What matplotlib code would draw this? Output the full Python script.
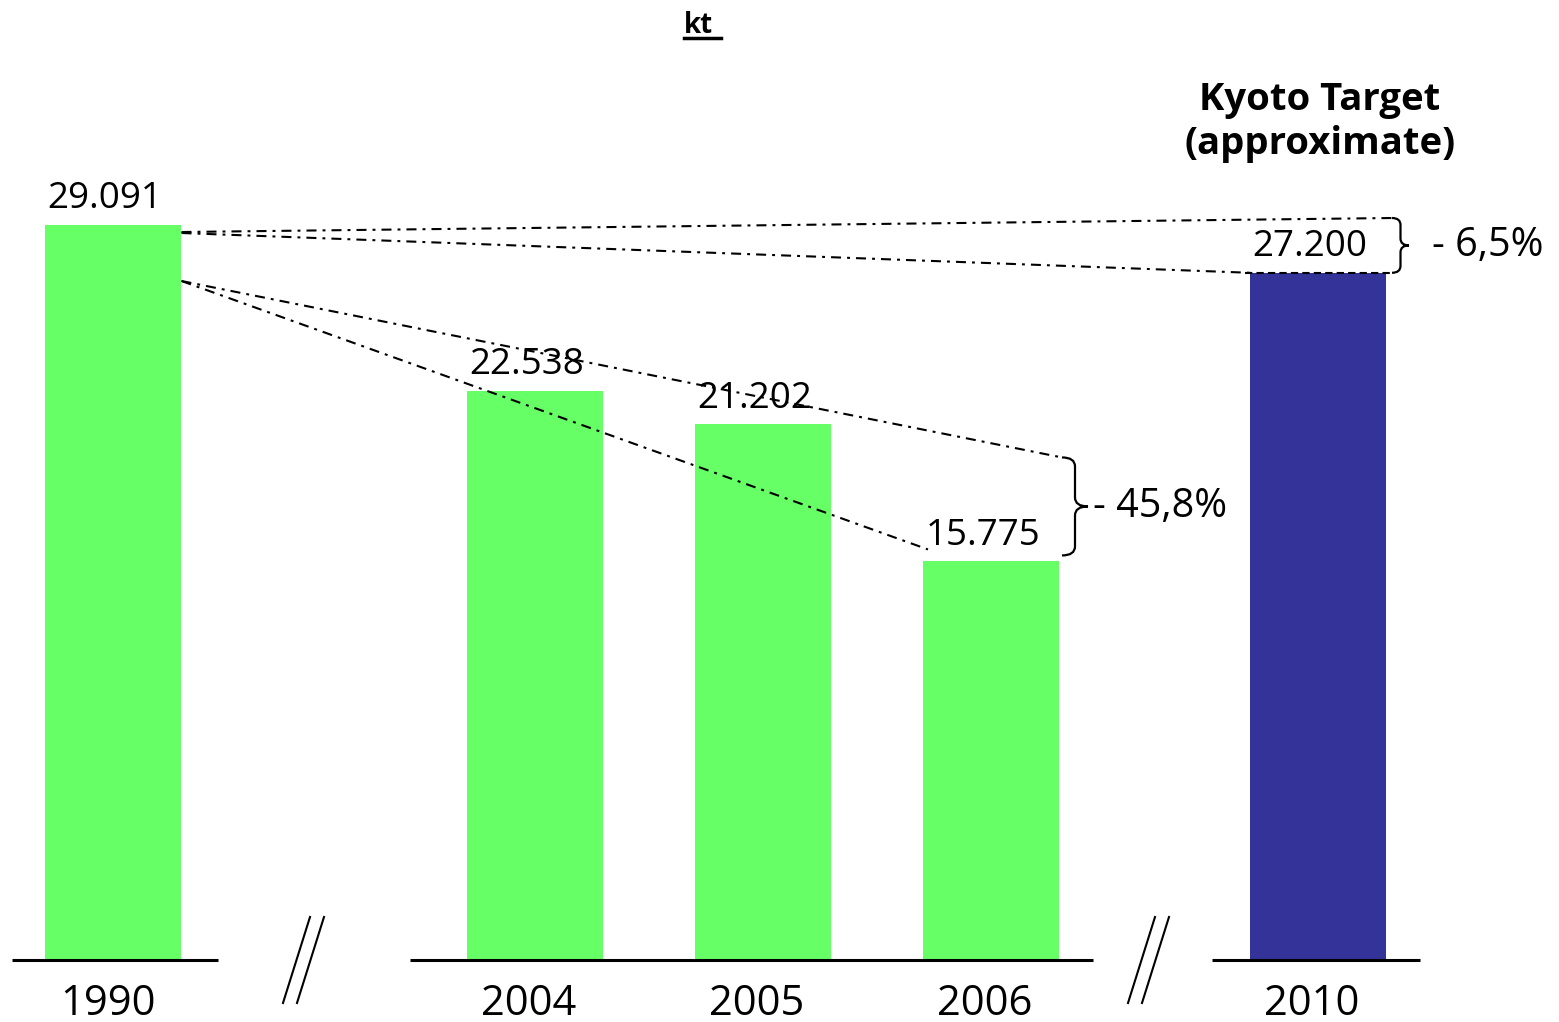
import numpy as np
import matplotlib.pyplot as plt
from matplotlib.path import Path
from matplotlib.patches import PathPatch
from matplotlib.lines import Line2D

plt.rcParams['font.family'] = ['Open Sans', 'DejaVu Sans']

# DATA
years = ['1990', '2004', '2005', '2006', '2010']
emissions = [29091, 22538, 21202, 15775, 27200]
bar_colors = ['#66FF66', '#66FF66', '#66FF66', '#66FF66', '#333399']
reduction_labels = ['- 6,5%', '- 45,8%']
unit_label = 'kt'
target_label = 'Kyoto Target\n(approximate)'

# LAYOUT (x in pixel-like units, baseline at pixel row 960)
x_pos = [113.5, 535, 763, 991, 1318]
bar_w = 136
y_top, y_bot = 37997, -2454
s = (y_top - y_bot) / 1022.0


def row(py):
    # pixel row -> y value, only for placing decorations
    return (960 - py) * s


def fmt(v):
    return f"{v:,}".replace(',', '.')


def brace(ax, x0, yb, yt, w, r_px):
    # right pointing curly brace between yb and yt
    ym = (yb + yt) / 2
    r = r_px * s
    xm = x0 + w / 2
    verts = [(x0, yt), (xm, yt), (xm, yt - r),
             (xm, ym + r),
             (xm, ym), (x0 + w, ym),
             (xm, ym), (xm, ym - r),
             (xm, yb + r),
             (xm, yb), (x0, yb)]
    codes = [Path.MOVETO, Path.CURVE3, Path.CURVE3,
             Path.LINETO,
             Path.CURVE3, Path.CURVE3,
             Path.CURVE3, Path.CURVE3,
             Path.LINETO,
             Path.CURVE3, Path.CURVE3]
    ax.add_patch(PathPatch(Path(verts, codes), fill=False, lw=1.6, color='black'))


fig = plt.figure(figsize=(15.59, 10.22), dpi=100)
ax = fig.add_axes([0, 0, 1, 1])
ax.set_xlim(0, 1559)
ax.set_ylim(y_bot, y_top)
ax.axis('off')

ax.bar(x_pos, emissions, width=bar_w, color=bar_colors, zorder=2)

# baselines for the three groups
for x0, x1 in [(12, 218), (410, 1093), (1212, 1420)]:
    ax.plot([x0, x1], [0, 0], color='black', lw=2.2, zorder=3, solid_capstyle='butt')

# axis break marks
for (xa, xb) in [(310, 283), (1155, 1128)]:
    for off in [0, 14]:
        ax.plot([xa + off, xb + off], [row(917), row(1003)], color='black', lw=1.5)

# value labels and year labels
for xi, v in zip(x_pos, emissions):
    ax.annotate(fmt(v), (xi, v), xytext=(-6, 12), textcoords='offset points',
                ha='center', va='baseline', fontsize=26.5)
for xi, yr in zip(x_pos, years):
    ax.text(xi - 6, row(1004), yr, ha='center', va='center', fontsize=30)

# dash-dot guide lines
dd = (0, (4.8, 2.9, 1.4, 2.9))
x_r1990 = x_pos[0] + bar_w / 2
x_l2010 = x_pos[4] - bar_w / 2
x_l2006 = x_pos[3] - bar_w / 2
b1_x, b2_x = 1392, 1062
b2_top = emissions[3] + 104 * s
b2_bot = emissions[3] + 6 * s
fan_y = emissions[0] - 56 * s

ax.plot([x_r1990, b1_x], [emissions[0] - 7 * s, emissions[0] + 7 * s], color='black', lw=1.5, linestyle=dd)
ax.plot([x_r1990, x_l2010], [emissions[0] - 8 * s, emissions[4]], color='black', lw=1.5, linestyle=dd)
ax.plot([x_l2010 - 5, b1_x], [emissions[4], emissions[4]], color='black', lw=1.5,
        linestyle=(0, (3.5, 2)), zorder=3)
ax.plot([x_r1990, b2_x], [fan_y, b2_top], color='black', lw=1.5, linestyle=dd)
ax.plot([x_r1990, x_l2006 + 5], [fan_y, emissions[3] + 12 * s], color='black', lw=1.5, linestyle=dd)

# braces and percentages
b1_top = emissions[0] + 7 * s
brace(ax, b1_x, emissions[4], b1_top, 17, 7)
brace(ax, b2_x, b2_bot, b2_top, 26, 9)
ax.text(1432, (emissions[4] + b1_top) / 2, reduction_labels[0], ha='left', va='center', fontsize=28.5)
ax.text(1093, (b2_bot + b2_top) / 2, reduction_labels[1], ha='left', va='center', fontsize=28.5)

# titles
ax.text(1320, row(122), target_label, ha='center', va='center', fontsize=27.5,
        fontweight='bold', linespacing=1.22)
ax.text(684, row(26), unit_label, ha='left', va='center', fontsize=20, fontweight='bold')
fig.add_artist(Line2D([684 / 1559, 721 / 1559], [1 - 38 / 1022, 1 - 38 / 1022],
                      color='black', lw=2.5))

fig.savefig('out.png', dpi=100)
